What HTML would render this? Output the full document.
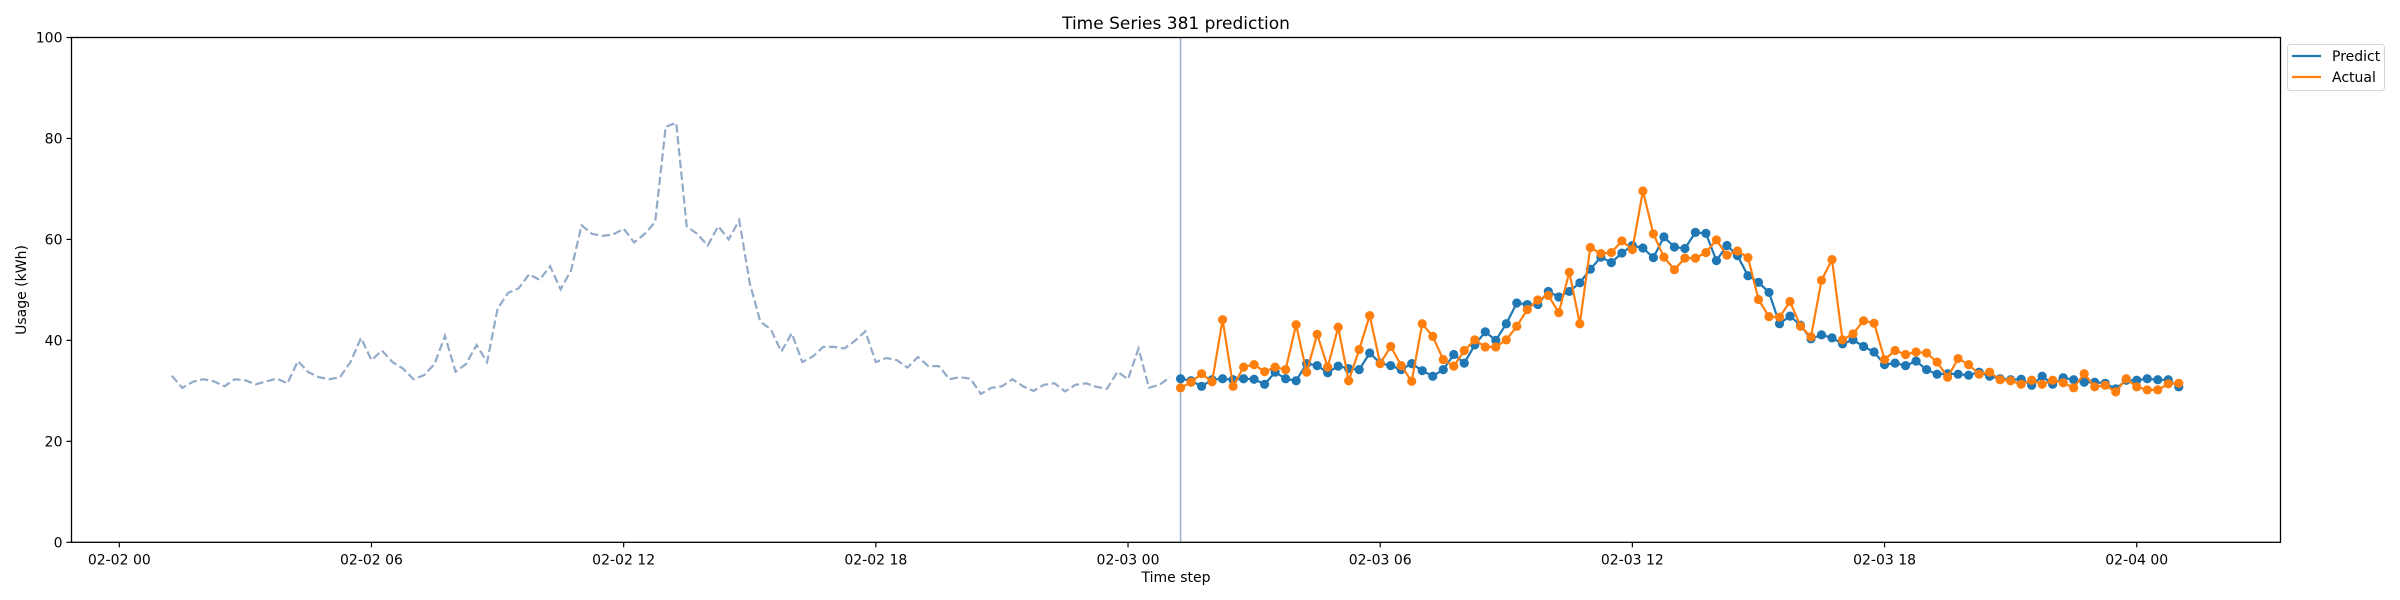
<!DOCTYPE html>
<html><head><meta charset="utf-8"><style>
html,body{margin:0;padding:0;background:#fff;}
svg{display:block;font-family:"DejaVu Sans","Liberation Sans",sans-serif;}
</style></head><body>
<svg id="chart" width="2400" height="600" viewBox="0 0 2400 600" xmlns="http://www.w3.org/2000/svg">
<rect x="0" y="0" width="2400" height="600" fill="#fff"/>
<text x="1176" y="29" font-size="17" text-anchor="middle" fill="#000">Time Series 381 prediction</text>
<text x="1176" y="582" font-size="14" text-anchor="middle" fill="#000">Time step</text>
<text transform="translate(26,290) rotate(-90)" font-size="14" text-anchor="middle" fill="#000">Usage (kWh)</text>
<g id="plot"></g>
<g>
<rect x="2287.5" y="44.5" width="97" height="46" rx="3" fill="#fff" stroke="#d6d6d6" stroke-width="1"/>
<line x1="2292" y1="56" x2="2321" y2="56" stroke="#1f77b4" stroke-width="2.2"/>
<text x="2332" y="61" font-size="14" fill="#000">Predict</text>
<line x1="2292" y1="77" x2="2321" y2="77" stroke="#ff7f0e" stroke-width="2.2"/>
<text x="2332" y="82" font-size="14" fill="#000">Actual</text>
</g>
</svg>
<script>
const history = [33.0,30.6,31.8,32.3,31.9,30.9,32.3,32.1,31.3,31.9,32.4,31.5,35.9,33.7,32.7,32.3,32.7,35.7,40.5,36.1,38.0,35.7,34.4,32.3,33.1,35.3,40.9,33.8,35.3,39.1,35.7,46.3,49.4,50.3,53.1,52.0,54.7,50.1,53.9,62.8,61.1,60.7,61.0,62.1,59.4,61.1,63.5,82.3,83.1,62.6,61.1,58.8,62.6,60.0,63.8,51.3,43.7,42.2,37.8,41.4,35.7,36.8,38.7,38.7,38.4,39.9,41.8,35.7,36.5,36.1,34.6,36.7,34.9,34.9,32.3,32.7,32.4,29.4,30.6,30.9,32.3,30.9,30.0,31.2,31.5,29.9,31.2,31.5,30.8,30.4,33.8,32.3,38.4,30.6,31.2,32.7];
const predict = [32.4,32.0,30.9,32.2,32.4,32.2,32.4,32.3,31.3,33.7,32.4,32.0,35.4,35.0,33.6,34.9,34.4,34.2,37.5,35.5,35.0,34.2,35.4,34.0,32.9,34.2,37.2,35.5,39.1,41.7,40.0,43.3,47.4,47.1,47.1,49.7,48.6,49.7,51.4,54.1,56.5,55.4,57.3,58.8,58.3,56.4,60.5,58.5,58.2,61.4,61.2,55.8,58.8,56.8,52.8,51.5,49.5,43.3,44.8,43.0,40.3,41.1,40.5,39.3,40.1,38.8,37.7,35.2,35.5,35.0,35.9,34.2,33.3,33.4,33.3,33.1,33.7,32.9,32.4,32.2,32.3,31.1,32.9,31.3,32.6,32.2,31.7,31.7,31.5,30.4,32.1,32.1,32.4,32.2,32.2,30.8];
const actual = [30.6,31.7,33.4,31.8,44.1,30.9,34.7,35.2,33.8,34.7,34.2,43.1,33.7,41.2,34.7,42.6,32.0,38.2,44.9,35.4,38.8,35.0,31.9,43.3,40.8,36.2,34.9,38.0,40.1,38.7,38.7,40.1,42.8,46.1,48.0,48.9,45.5,53.5,43.3,58.4,57.2,57.4,59.7,58.0,69.6,61.1,56.5,54.0,56.3,56.3,57.4,59.9,56.9,57.7,56.4,48.1,44.7,44.6,47.7,42.8,40.7,51.9,56.0,40.1,41.3,43.9,43.4,36.2,38.0,37.2,37.7,37.5,35.7,32.7,36.4,35.2,33.3,33.7,32.2,32.0,31.3,32.1,31.3,32.1,31.6,30.6,33.4,30.8,31.1,29.8,32.4,30.8,30.2,30.2,31.4,31.5];
const yTicks = [0,20,40,60,80,100];
const xTickHours = [0,6,12,18,24,30,36,42,48];
const xTickLabels = ["02-02 00","02-02 06","02-02 12","02-02 18","02-03 00","02-03 06","02-03 12","02-03 18","02-04 00"];
const historyStartHour = 1.25;
const forecastStartHour = 25.25;
const stepHours = 0.25;

const NS = "http://www.w3.org/2000/svg";
const L = 71.5, R = 2280.5, T = 37.5, B = 542.3;
const x0 = 119.3, pxPerHour = 42.03;
function xs(h){ return x0 + h * pxPerHour; }
function ys(v){ return B - (v / 100) * (B - T); }
const plot = document.getElementById('plot');
function mk(tag, attrs){ const e = document.createElementNS(NS, tag); for (const k in attrs) e.setAttribute(k, attrs[k]); return e; }

// vertical forecast divider
const vl = mk('line', {x1: xs(forecastStartHour), x2: xs(forecastStartHour), y1: T, y2: B, stroke: '#9fb0d3', 'stroke-width': 1.6});


plot.appendChild(vl);

// history dashed
const hp = history.map((v,i)=>xs(historyStartHour + i*stepHours).toFixed(1)+','+ys(v).toFixed(1)).join(' ');
const hl = mk('polyline', {points: hp, fill: 'none', stroke: '#93aac8', 'stroke-width': 2.2, 'stroke-dasharray': '8.3,3.6'});


plot.appendChild(hl);

function series(arr, color, name){
  const g = mk('g', {});
  
  
  const pts = arr.map((v,i)=>xs(forecastStartHour + i*stepHours).toFixed(1)+','+ys(v).toFixed(1)).join(' ');
  const pl = mk('polyline', {points: pts, fill: 'none', stroke: color, 'stroke-width': 2.2});
  
  
  g.appendChild(pl);
  arr.forEach((v,i)=>{
    const c = mk('circle', {cx: xs(forecastStartHour + i*stepHours), cy: ys(v), r: 4.6, fill: color});
    
    
    g.appendChild(c);
  });
  plot.appendChild(g);
}
series(predict, '#1f77b4', 'predict');
series(actual, '#ff7f0e', 'actual');

// frame
const fr = mk('rect', {x: L, y: T, width: R-L, height: B-T, fill: 'none', stroke: '#000', 'stroke-width': 1.3});


plot.appendChild(fr);

yTicks.forEach(v=>{
  const t = mk('line', {x1: L-5, x2: L, y1: ys(v), y2: ys(v), stroke: '#000', 'stroke-width': 1.2});
  
  
  plot.appendChild(t);
  const tx = mk('text', {x: L-9, y: ys(v)+5, 'font-size': 14, 'text-anchor': 'end', fill: '#000'});
  tx.textContent = String(v);
  
  
  plot.appendChild(tx);
});
xTickHours.forEach((h,i)=>{
  const t = mk('line', {x1: xs(h), x2: xs(h), y1: B, y2: B+5, stroke: '#000', 'stroke-width': 1.2});
  
  
  plot.appendChild(t);
  const tx = mk('text', {x: xs(h), y: B+22, 'font-size': 14, 'text-anchor': 'middle', fill: '#000'});
  tx.textContent = xTickLabels[i];
  
  
  plot.appendChild(tx);
});
</script>
</body></html>
